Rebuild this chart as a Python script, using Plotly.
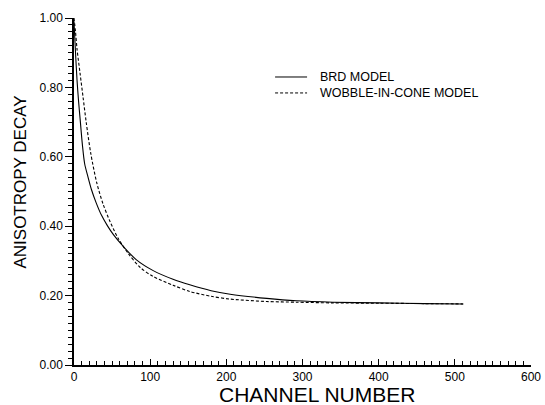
import plotly.graph_objects as go

# Channel numbers and anisotropy values
brd_channel = [0, 2, 4, 6, 8, 11, 14, 18, 23, 29, 36, 44, 52, 65, 82, 104, 130, 152, 180, 205, 253, 292, 340, 400, 460, 511]
brd_value = [0.99, 0.90, 0.82, 0.76, 0.71, 0.635, 0.58, 0.545, 0.505, 0.468, 0.432, 0.401, 0.375, 0.341, 0.303, 0.272, 0.247, 0.231, 0.214, 0.204, 0.192, 0.185, 0.181, 0.179, 0.177, 0.176]

wic_channel = [0, 2, 4, 8, 12, 16, 22, 30, 38, 47, 58, 71, 87, 104, 130, 152, 180, 205, 253, 292, 340, 400, 460, 511]
wic_value = [1.0, 0.96, 0.91, 0.84, 0.77, 0.70, 0.61, 0.524, 0.465, 0.415, 0.365, 0.322, 0.281, 0.255, 0.23, 0.212, 0.198, 0.19, 0.183, 0.181, 0.179, 0.178, 0.177, 0.176]

series_names = ["BRD MODEL", "WOBBLE-IN-CONE MODEL"]

x_ticks = [0, 100, 200, 300, 400, 500, 600]
y_ticks = [0.0, 0.2, 0.4, 0.6, 0.8, 1.0]
y_tick_labels = ["0.00", "0.20", "0.40", "0.60", "0.80", "1.00"]

FONT = "Liberation Sans"
DASH = "3px,2px"

fig = go.Figure()
fig.add_trace(go.Scatter(x=brd_channel, y=brd_value, mode="lines", name=series_names[0],
                         line=dict(color="black", width=1.1, shape="spline", smoothing=0.8)))
fig.add_trace(go.Scatter(x=wic_channel, y=wic_value, mode="lines", name=series_names[1],
                         line=dict(color="black", width=1.1, dash=DASH, shape="spline", smoothing=0.8)))

# Legend drawn in paper coordinates (sample line + label)
legend_rows = [(0.830, None), (0.784, DASH)]
shapes = []
annotations = []
for (ly, dash), name in zip(legend_rows, series_names):
    shapes.append(dict(type="line", xref="paper", yref="paper", x0=0.440, x1=0.510, y0=ly, y1=ly,
                       line=dict(color="black", width=1, dash=dash or "solid")))
    annotations.append(dict(text=name, xref="paper", yref="paper", x=0.534, y=ly,
                            xanchor="left", yanchor="middle", showarrow=False,
                            font=dict(family=FONT, size=12.5, color="black")))

annotations += [
    dict(text="CHANNEL NUMBER", xref="paper", yref="paper", x=0.531, y=-0.086,
         xanchor="center", yanchor="middle", showarrow=False,
         font=dict(family=FONT, size=21, color="black")),
    dict(text="ANISOTROPY DECAY", xref="paper", yref="paper", x=-0.118, y=0.526,
         xanchor="center", yanchor="middle", textangle=-90, showarrow=False,
         font=dict(family=FONT, size=17, color="black")),
]

fig.update_layout(
    width=545, height=405,
    margin=dict(l=74, r=14, t=18, b=40, autoexpand=False),
    paper_bgcolor="white", plot_bgcolor="white",
    font=dict(family=FONT, color="black", size=12),
    showlegend=False,
    shapes=shapes,
    annotations=annotations,
    xaxis=dict(range=[0, 600], tickvals=x_ticks, ticks="inside", ticklen=6, tickwidth=1,
               tickcolor="black", showline=True, linecolor="black", linewidth=1.5,
               showgrid=False, zeroline=False, tickfont=dict(size=12), automargin=False,
               minor=dict(dtick=10, ticks="inside", ticklen=4, tickcolor="black", showgrid=False)),
    yaxis=dict(range=[0, 1.0], tickvals=y_ticks, ticktext=y_tick_labels, ticks="outside",
               ticklen=7, tickwidth=1, tickcolor="black", showline=True, linecolor="black",
               linewidth=1.5, showgrid=False, zeroline=False, tickfont=dict(size=12), automargin=False,
               minor=dict(dtick=0.02, ticks="outside", ticklen=4, tickcolor="black", showgrid=False)),
)

fig.write_html("out.html")
